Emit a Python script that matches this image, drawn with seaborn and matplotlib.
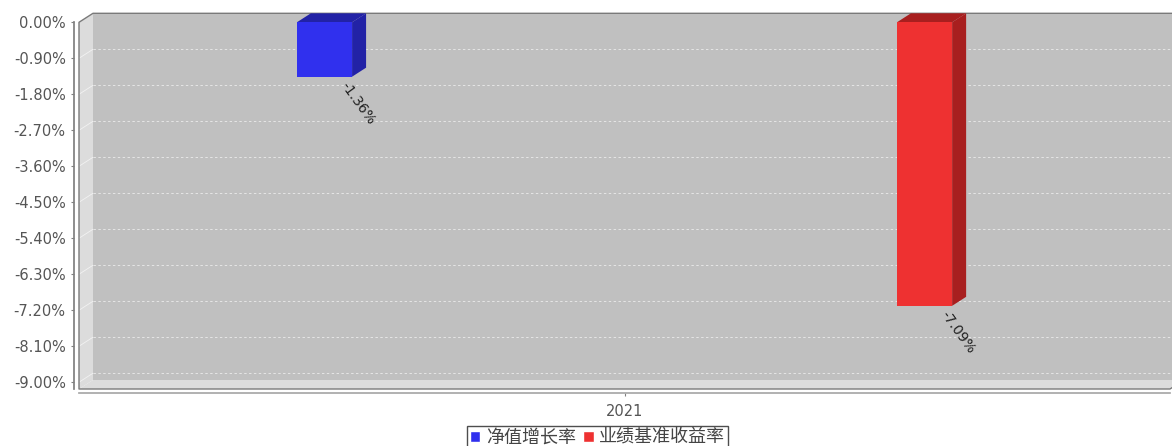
import numpy as np
import pandas as pd
import matplotlib
matplotlib.use('Agg')
import matplotlib.pyplot as plt
import seaborn as sns
from matplotlib.patches import Polygon, Rectangle
from matplotlib.lines import Line2D
from matplotlib.transforms import IdentityTransform

# Data
years = ['2021']
series = ['净值增长率', '业绩基准收益率']
values = [-1.36, -7.09]
colors = ['#3030ee', '#ee3131']
side_colors = ['#2222a6', '#a81f1f']
y_ticks = [0.0, -0.9, -1.8, -2.7, -3.6, -4.5, -5.4, -6.3, -7.2, -8.1, -9.0]

df = pd.DataFrame({'year': years * len(series), 'series': series, 'value': values})

sns.set_theme(style='white')
plt.rcParams['font.family'] = ['DejaVu Sans', 'Noto Sans CJK SC']

W, H = 1172, 446
fig = plt.figure(figsize=(W / 100, H / 100), dpi=100)
# front plane of the 3d plot, in pixels from the top-left
fl, fr, ft, fb = 79, 1170, 22.3, 389
ax = fig.add_axes([fl / W, (H - fb) / H, (fr - fl) / W, (fb - ft) / H])
ax.set_facecolor('none')

sns.barplot(data=df, x='year', y='value', hue='series', hue_order=series, palette=colors,
            width=1.1, gap=0.908, ax=ax, saturation=1)
bars = [p for p in ax.patches if isinstance(p, Rectangle) and abs(p.get_height()) > 0]
bars = sorted(bars, key=lambda p: p.get_x())
ax.set_xlim(-0.5, 0.5)
ax.set_ylim(-9.17, 0)
handles, labels = ax.get_legend_handles_labels()
if ax.get_legend() is not None:
    ax.get_legend().remove()

dx, dy = 14, 9  # 3d depth offset in pixels

# walls (display coords: origin bottom-left)
x0, x1 = fl, fr
y0, y1 = H - fb, H - ft
back = Polygon([(x0 + dx, y0 + dy), (x1 + dx, y0 + dy), (x1 + dx, y1 + dy), (x0 + dx, y1 + dy)],
               closed=True, facecolor='#c0c0c0', edgecolor='none', transform=IdentityTransform(),
               clip_on=False, zorder=0)
left = Polygon([(x0, y0), (x0 + dx, y0 + dy), (x0 + dx, y1 + dy), (x0, y1)],
               closed=True, facecolor='#dcdcdc', edgecolor='none', transform=IdentityTransform(),
               clip_on=False, zorder=0)
floor = Polygon([(x0, y0), (x1, y0), (x1 + dx, y0 + dy), (x0 + dx, y0 + dy)],
                closed=True, facecolor='#dcdcdc', edgecolor='none', transform=IdentityTransform(),
                clip_on=False, zorder=0)
for p in (back, left, floor):
    ax.add_patch(p)

# outline
outline = Line2D([x1 + dx, x0 + dx, x0, x0, x1, x1 + dx],
                 [y1 + dy, y1 + dy, y1, y0, y0, y0 + dy],
                 color='#7a7a7a', lw=1, transform=IdentityTransform(), clip_on=False, zorder=1)
ax.add_line(outline)

# gridlines on back wall and left wall
for v in y_ticks:
    _, yd = ax.transData.transform((0, v))
    ax.add_line(Line2D([x0 + dx, x1 + dx], [yd + dy, yd + dy], color='#e6e6e6', lw=0.7,
                       dashes=(2.5, 2.5), transform=IdentityTransform(), clip_on=False, zorder=0.5))
    ax.add_line(Line2D([x0, x0 + dx], [yd, yd + dy], color='#f2f2f2', lw=0.6,
                       transform=IdentityTransform(), clip_on=False, zorder=0.5))

# 3d faces of bars
for i, p in enumerate(bars):
    bx, bw = p.get_x(), p.get_width()
    v = p.get_y() + p.get_height()
    (ax0, ay0), (ax1, ay1) = ax.transData.transform([(bx, 0), (bx + bw, v)])
    top = Polygon([(ax0, ay0), (ax1, ay0), (ax1 + dx, ay0 + dy), (ax0 + dx, ay0 + dy)],
                  closed=True, facecolor=side_colors[i], edgecolor='none',
                  transform=IdentityTransform(), clip_on=False, zorder=2)
    side = Polygon([(ax1, ay0), (ax1 + dx, ay0 + dy), (ax1 + dx, ay1 + dy), (ax1, ay1)],
                   closed=True, facecolor=side_colors[i], edgecolor='none',
                   transform=IdentityTransform(), clip_on=False, zorder=2)
    ax.add_patch(top)
    ax.add_patch(side)
    p.set_zorder(3)
    p.set_edgecolor('none')
    ax.annotate(f"{v:.2f}%", xy=(bx + bw / 2, v), xytext=(14, -5),
                textcoords='offset points', ha='left', va='center', rotation=-54,
                rotation_mode='anchor', fontsize=10, color='#222222', zorder=4,
                annotation_clip=False)

# axes styling
for s in ('top', 'right'):
    ax.spines[s].set_visible(False)
ax.spines['left'].set_position(('outward', 3.6))
ax.spines['left'].set_color('#808080')
ax.spines['bottom'].set_position(('outward', 2.9))
ax.spines['bottom'].set_color('#a8a8a8')
ax.set_yticks(y_ticks)
ax.set_yticklabels([f"{v:.2f}%" for v in y_ticks])
ax.tick_params(axis='y', length=2.5, width=0.8, color='#808080', pad=3.5,
               labelsize=10.5, labelcolor='#555555', left=True)
ax.tick_params(axis='x', length=2, width=0.8, color='#808080', pad=6,
               labelsize=10.5, labelcolor='#555555', bottom=True)
ax.set_xlabel('')
ax.set_ylabel('')
ax.grid(False)

leg = fig.legend(handles, labels, loc='upper center', bbox_to_anchor=(597.5 / W, 1 - 426 / H),
                 ncol=2, frameon=True, fancybox=False, fontsize=13, handlelength=0.6,
                 handleheight=0.6, handletextpad=0.3, columnspacing=0.4, borderpad=0.15,
                 borderaxespad=0, labelcolor='#444444')
leg.get_frame().set_edgecolor('#222222')
leg.get_frame().set_linewidth(1)
for t in leg.get_texts():
    t.set_fontfamily(['Noto Sans CJK SC', 'DejaVu Sans'])

fig.savefig('out.png', dpi=100)
